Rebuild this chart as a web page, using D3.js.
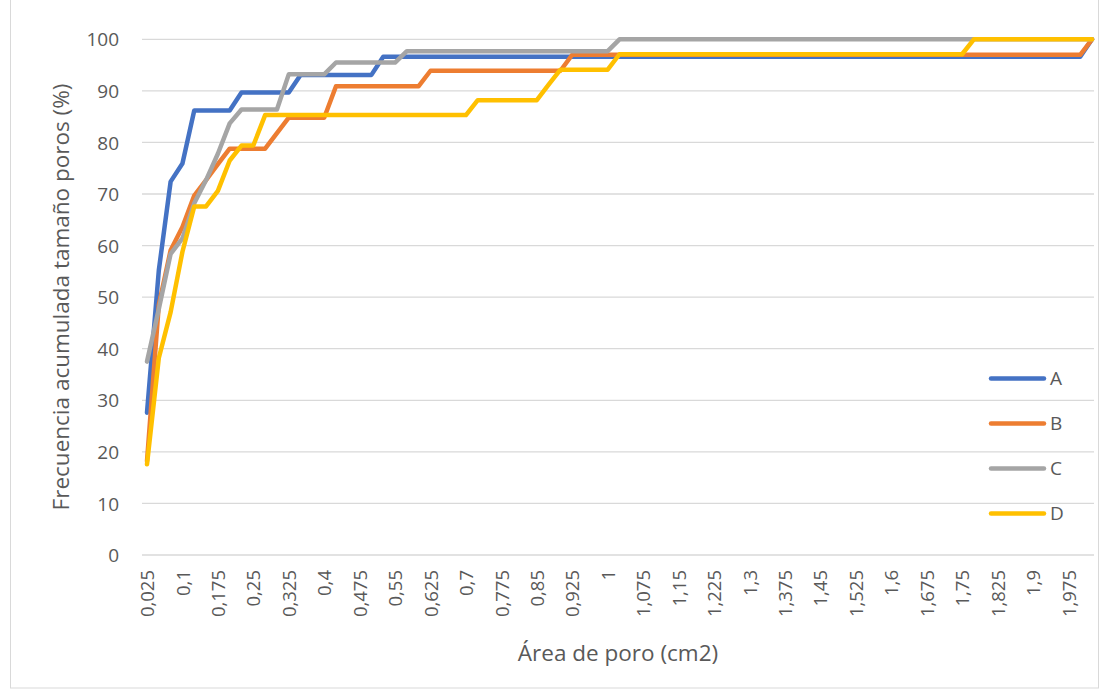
<!DOCTYPE html>
<html>
<head>
<meta charset="utf-8">
<script src="https://cdn.jsdelivr.net/npm/d3@7/dist/d3.min.js"></script>
<style>
  html, body { margin: 0; padding: 0; background: #fff; }
  svg { display: block; }
  text { font-family: "Open Sans", "Liberation Sans", sans-serif; fill: #595959; }
</style>
</head>
<body>
<svg id="chart" width="1101" height="690"></svg>
<script>
// ---- data ----
const categories = [
  "0,025","0,05","0,075","0,1","0,125","0,15","0,175","0,2","0,225","0,25",
  "0,275","0,3","0,325","0,35","0,375","0,4","0,425","0,45","0,475","0,5",
  "0,525","0,55","0,575","0,6","0,625","0,65","0,675","0,7","0,725","0,75",
  "0,775","0,8","0,825","0,85","0,875","0,9","0,925","0,95","0,975","1",
  "1,025","1,05","1,075","1,1","1,125","1,15","1,175","1,2","1,225","1,25",
  "1,275","1,3","1,325","1,35","1,375","1,4","1,425","1,45","1,475","1,5",
  "1,525","1,55","1,575","1,6","1,625","1,65","1,675","1,7","1,725","1,75",
  "1,775","1,8","1,825","1,85","1,875","1,9","1,925","1,95","1,975","2",
  "2,025"
];

const tickLabels = [
  "0,025","0,1","0,175","0,25","0,325","0,4","0,475","0,55","0,625","0,7",
  "0,775","0,85","0,925","1","1,075","1,15","1,225","1,3","1,375","1,45",
  "1,525","1,6","1,675","1,75","1,825","1,9","1,975"
];

const yTicks = [0, 10, 20, 30, 40, 50, 60, 70, 80, 90, 100];

const seriesA = [
  27.6, 55.2, 72.4, 75.9, 86.2, 86.2, 86.2, 86.2, 89.7, 89.7,
  89.7, 89.7, 89.7, 93.1, 93.1, 93.1, 93.1, 93.1, 93.1, 93.1,
  96.6, 96.6, 96.6, 96.6, 96.6, 96.6, 96.6, 96.6, 96.6, 96.6,
  96.6, 96.6, 96.6, 96.6, 96.6, 96.6, 96.6, 96.6, 96.6, 96.6,
  96.6, 96.6, 96.6, 96.6, 96.6, 96.6, 96.6, 96.6, 96.6, 96.6,
  96.6, 96.6, 96.6, 96.6, 96.6, 96.6, 96.6, 96.6, 96.6, 96.6,
  96.6, 96.6, 96.6, 96.6, 96.6, 96.6, 96.6, 96.6, 96.6, 96.6,
  96.6, 96.6, 96.6, 96.6, 96.6, 96.6, 96.6, 96.6, 96.6, 96.6,
  100
];

const seriesB = [
  18.2, 48.5, 59.1, 63.6, 69.7, 72.7, 75.8, 78.8, 78.8, 78.8,
  78.8, 81.8, 84.8, 84.8, 84.8, 84.8, 90.9, 90.9, 90.9, 90.9,
  90.9, 90.9, 90.9, 90.9, 93.9, 93.9, 93.9, 93.9, 93.9, 93.9,
  93.9, 93.9, 93.9, 93.9, 93.9, 93.9, 97.0, 97.0, 97.0, 97.0,
  97.0, 97.0, 97.0, 97.0, 97.0, 97.0, 97.0, 97.0, 97.0, 97.0,
  97.0, 97.0, 97.0, 97.0, 97.0, 97.0, 97.0, 97.0, 97.0, 97.0,
  97.0, 97.0, 97.0, 97.0, 97.0, 97.0, 97.0, 97.0, 97.0, 97.0,
  97.0, 97.0, 97.0, 97.0, 97.0, 97.0, 97.0, 97.0, 97.0, 97.0,
  100
];

const seriesC = [
  37.5, 47.7, 58.4, 61.4, 68.2, 72.7, 77.8, 83.7, 86.4, 86.4,
  86.4, 86.4, 93.2, 93.2, 93.2, 93.2, 95.5, 95.5, 95.5, 95.5,
  95.5, 95.5, 97.7, 97.7, 97.7, 97.7, 97.7, 97.7, 97.7, 97.7,
  97.7, 97.7, 97.7, 97.7, 97.7, 97.7, 97.7, 97.7, 97.7, 97.7,
  100, 100, 100, 100, 100, 100, 100, 100, 100, 100,
  100, 100, 100, 100, 100, 100, 100, 100, 100, 100,
  100, 100, 100, 100, 100, 100, 100, 100, 100, 100,
  100, 100, 100, 100, 100, 100, 100, 100, 100, 100,
  100
];

const seriesD = [
  17.6, 38.2, 47.1, 58.8, 67.6, 67.6, 70.6, 76.5, 79.4, 79.4,
  85.3, 85.3, 85.3, 85.3, 85.3, 85.3, 85.3, 85.3, 85.3, 85.3,
  85.3, 85.3, 85.3, 85.3, 85.3, 85.3, 85.3, 85.3, 88.2, 88.2,
  88.2, 88.2, 88.2, 88.2, 91.2, 94.1, 94.1, 94.1, 94.1, 94.1,
  97.1, 97.1, 97.1, 97.1, 97.1, 97.1, 97.1, 97.1, 97.1, 97.1,
  97.1, 97.1, 97.1, 97.1, 97.1, 97.1, 97.1, 97.1, 97.1, 97.1,
  97.1, 97.1, 97.1, 97.1, 97.1, 97.1, 97.1, 97.1, 97.1, 97.1,
  100, 100, 100, 100, 100, 100, 100, 100, 100, 100,
  100
];

const seriesNames = ["A", "B", "C", "D"];
const seriesColors = ["#4472C4", "#ED7D31", "#A5A5A5", "#FFC000"];

// ---- drawing ----
const svg = d3.select("#chart");

// chart area border
svg.append("rect")
  .attr("x", 10.5).attr("y", -2)
  .attr("width", 1088).attr("height", 690)
  .attr("fill", "none").attr("stroke", "#d9d9d9").attr("stroke-width", 1);

const plotLeft = 142, plotRight = 1094;
const x = d3.scalePoint().domain(categories).range([147, 1092]);
const y = d3.scaleLinear().domain([0, 100]).range([555, 39.3]);

// gridlines
svg.append("g")
  .selectAll("line")
  .data(yTicks)
  .join("line")
  .attr("x1", plotLeft).attr("x2", plotRight)
  .attr("y1", d => y(d)).attr("y2", d => y(d))
  .attr("stroke", "#d9d9d9").attr("stroke-width", 1.3);

// y axis labels
const yAxis = svg.append("g")
  .attr("transform", "translate(119,0)")
  .call(d3.axisLeft(y).tickValues(yTicks).tickSize(0).tickPadding(0));
yAxis.select(".domain").remove();
yAxis.selectAll("text")
  .style("font-size", "19px")
  .attr("fill", "#595959")
  .attr("dy", "0.35em");

// x axis labels
const xAxis = svg.append("g")
  .attr("transform", "translate(0,555)")
  .call(d3.axisBottom(x).tickValues(tickLabels).tickSize(0).tickPadding(0));
xAxis.select(".domain").remove();
xAxis.selectAll("text")
  .style("font-size", "18.5px")
  .attr("fill", "#595959")
  .attr("text-anchor", "end")
  .attr("dy", "0.36em")
  .attr("transform", "translate(0,15) rotate(-90)")
  .attr("x", 0).attr("y", 0);

// lines
const allSeries = [seriesA, seriesB, seriesC, seriesD];
const line = d3.line()
  .x((d, i) => x(categories[i]))
  .y(d => y(d));

svg.append("g")
  .selectAll("path")
  .data(allSeries)
  .join("path")
  .attr("d", d => line(d))
  .attr("fill", "none")
  .attr("stroke", (d, i) => seriesColors[i])
  .attr("stroke-width", 4.5)
  .attr("stroke-linejoin", "round")
  .attr("stroke-linecap", "round");

// legend
const legend = svg.append("g");
const legendY = d3.scalePoint().domain(seriesNames).range([378.5, 513.5]);
seriesNames.forEach((name, i) => {
  legend.append("line")
    .attr("x1", 991).attr("x2", 1044)
    .attr("y1", legendY(name)).attr("y2", legendY(name))
    .attr("stroke", seriesColors[i]).attr("stroke-width", 4.5)
    .attr("stroke-linecap", "round");
  legend.append("text")
    .attr("x", 1050).attr("y", legendY(name))
    .attr("dy", "0.36em")
    .style("font-size", "19px")
    .text(name);
});

// axis titles
svg.append("text")
  .attr("x", 618).attr("y", 661)
  .attr("text-anchor", "middle")
  .style("font-size", "22.5px")
  .text("Área de poro (cm2)");

svg.append("text")
  .attr("transform", "translate(69,297) rotate(-90)")
  .attr("text-anchor", "middle")
  .style("font-size", "22.5px")
  .text("Frecuencia acumulada tamaño poros (%)");
</script>
</body>
</html>
